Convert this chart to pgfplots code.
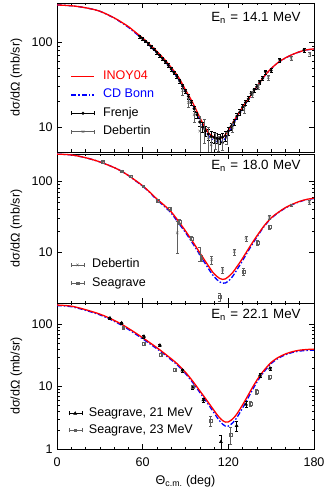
\documentclass[border=0pt]{standalone}
\usepackage{fontspec}
\setmainfont{Liberation Sans}
\usepackage{pgfplots}
\pgfplotsset{compat=1.18}
\definecolor{inoyred}{RGB}{255,0,0}
\definecolor{cdblue}{RGB}{0,0,255}
\definecolor{datgray}{RGB}{95,95,95}
\newcommand{\En}[1]{{\fontsize{13.4}{15}\selectfont E\textsubscript{n}\hspace{4.5bp}=\hspace{4.5bp}#1\hspace{4.5bp}MeV}}
\pgfplotsset{
  every axis/.append style={
    scale only axis, width=257bp, xmin=0, xmax=180,
    xtick={0,60,120,180}, minor x tick num=5,
    tick align=inside, major tick length=5bp, minor tick length=2.5bp,
    tick style={black, line width=0.5bp}, axis line style={line width=0.8bp},
    ylabel={dσ/dΩ (mb/sr)},
    every axis y label/.style={at={(axis description cs:-0.158,0.5)}, rotate=90, anchor=center},
    legend cell align=left,
    legend style={draw=none, fill=none, inner sep=0pt, column sep=8bp,
      nodes={inner sep=0pt, text height=9bp, text depth=3bp}}},
  inoy/.style={inoyred, line width=1.3bp, smooth, no marks},
  cdb/.style={cdblue, line width=1.3bp, smooth, no marks, dash pattern=on 5bp off 2bp on 1.5bp off 2bp},
  blackbars/.style={only marks, black, error bars/y dir=both, error bars/y explicit,
    error bars/error bar style={line width=0.4bp, black, solid},
    error bars/error mark options={rotate=90, mark size=1.5bp, line width=0.4bp, black}},
  graybars/.style={only marks, datgray, error bars/y dir=both, error bars/y explicit,
    error bars/error bar style={line width=0.4bp, datgray, solid},
    error bars/error mark options={rotate=90, mark size=1.5bp, line width=0.4bp, datgray}},
  linelegL/.style={legend image code/.code={\draw[##1] (0bp,0bp)--(23bp,0bp);}},
  eblegLk/.style={legend image code/.code={%
    \draw[line width=0.4bp,black,solid] (0bp,0bp)--(23bp,0bp) (0bp,-2bp)--(0bp,2bp) (23bp,-2bp)--(23bp,2bp);
    \draw[mark repeat=2,mark phase=2,##1] plot coordinates {(0bp,0bp)(11.5bp,0bp)(23bp,0bp)};}},
  eblegLg/.style={legend image code/.code={%
    \draw[line width=0.4bp,datgray,solid] (0bp,0bp)--(23bp,0bp) (0bp,-2bp)--(0bp,2bp) (23bp,-2bp)--(23bp,2bp);
    \draw[mark repeat=2,mark phase=2,##1] plot coordinates {(0bp,0bp)(11.5bp,0bp)(23bp,0bp)};}},
  eblegSk/.style={legend image code/.code={%
    \draw[line width=0.4bp,black,solid] (0bp,0bp)--(13bp,0bp) (0bp,-2bp)--(0bp,2bp) (13bp,-2bp)--(13bp,2bp);
    \draw[mark repeat=2,mark phase=2,##1] plot coordinates {(0bp,0bp)(6.5bp,0bp)(13bp,0bp)};}},
  eblegSg/.style={legend image code/.code={%
    \draw[line width=0.4bp,datgray,solid] (0bp,0bp)--(13bp,0bp) (0bp,-2bp)--(0bp,2bp) (13bp,-2bp)--(13bp,2bp);
    \draw[mark repeat=2,mark phase=2,##1] plot coordinates {(0bp,0bp)(6.5bp,0bp)(13bp,0bp)};}},
}
\begin{document}
\fontsize{12.6}{15}\selectfont
\begin{tikzpicture}
\useasboundingbox (0,0) rectangle (330bp,490bp);
% ---------- 14.1 MeV ----------
\begin{axis}[ymode=log, anchor=south west, at={(57bp,338bp)}, height=149bp, ymin=5.1, ymax=290,
  ytick={10,100}, yticklabels={10,100}, xticklabels={},
  legend style={at={(axis description cs:0.053,0.547)}, anchor=north west, row sep=6.3bp}]
\addlegendimage{inoyred, line width=1.3bp, linelegL}
\addlegendentry{\textcolor{inoyred}{INOY04}}
\addplot[cdb, linelegL] coordinates {
(0,275)(10,269)(20,255)(30,232)(40,193)(45,171)(50,150)(55,128)(60,109)(65,90.5)
(70,75)(75,61)(80,48.5)(85,37)(90,26.5)(95,18.5)(100,12.3)(103,9.7)(106,8.0)
(109,7.1)(112,6.75)(114,6.7)(116,6.85)(118,7.4)(120,8.5)(122,9.8)(125,12.2)
(128,14.8)(131,18)(134,21.1)(137,25.3)(140,29.8)(145,39.3)(150,48.8)(155,57.8)
(160,65.2)(165,71.7)(170,77.2)(175,81.2)(180,83.2)};
\addlegendentry{\textcolor{cdblue}{CD Bonn}}
\addplot[inoy, forget plot] coordinates {
(0,275)(10,269)(20,255)(30,232)(40,194)(45,173)(50,153)(55,131)(60,112)(65,93.5)
(70,78)(75,63.5)(80,50.5)(85,39)(90,27.5)(95,19.5)(100,13)(103,10.4)(106,8.6)
(109,7.8)(112,7.45)(114,7.4)(116,7.55)(118,8.2)(120,9.2)(122,10.4)(125,12.7)
(128,15.2)(131,18.3)(134,21.3)(137,25.5)(140,30)(145,39.5)(150,49)(155,58)
(160,65.5)(165,72)(170,77.5)(175,81.5)(180,83.5)};
\addplot[blackbars, mark=*, mark size=1.3bp, eblegLk]
  table[x=x, y=y, y error=e] {
x y e
58 117 4
60 110 4
62 103 4
64 96 3.5
66 89 3.5
68 83 3
70 76 3
72 70 3
74 64 3
76 59 2.5
78 53.5 2.5
80 48.5 2.5
82 44 2
84 39.5 2
86 35 2
88 30.5 1.6
90 26.5 1.5
92 23 1.4
94 19.5 1.3
96 16.5 1.2
98 14 1.2
100 11.5 1.2
102 10 1.3
104 9 1.2
106 8.3 1.2
108 7.8 1.2
110 7.6 1.1
112 7.4 1.0
114 7.3 1.0
116 7.6 1.0
118 7.9 1.0
120 9.0 1.0
122 10.2 1.0
124 11.5 1.0
126 13.5 1.1
128 15 1.2
130 17.2 1.3
132 19.5 1.4
134 21.5 1.4
136 25 1.5
138 27.5 1.6
140 30 1.7
142 34 1.9
144 37.5 2
146 45 2.5
150 46.5 2.5
156 62 3
173 81 4
};
\addlegendentry{Frenje}
\addplot[graybars, mark=x, mark size=1.8bp, eblegLg]
  table[x=x, y=y, y error=e] {
x y e
88 27 3
92 19.5 2.5
96 14 2.5
100 9 4.5
103 9.5 3
106 7.5 2.5
108 6.2 1.5
111 7.0 1.5
113 6.5 1.3
116 6.6 1.3
119 7.5 1.2
123 10 1.2
131 16 1.5
137 24.5 2
141 30 2
148 38.5 2.5
164 65 3.5
177 73 4
};
\addlegendentry{Debertin}
\node[anchor=east] at (rel axis cs:0.965,0.90) {\En{14.1}};
\end{axis}
% ---------- 18.0 MeV ----------
\begin{axis}[ymode=log, anchor=south west, at={(57bp,187bp)}, height=149bp, ymin=1.95, ymax=240,
  ytick={10,100}, yticklabels={10,100}, xticklabels={},
  legend style={at={(axis description cs:0.053,0.297)}, anchor=north west, row sep=6.3bp}]
\addplot[cdb, forget plot] coordinates {
(0,239)(10,233)(20,213)(30,186)(40,155)(45,138)(50,120)(55,101)(60,85)(65,69)
(70,54.5)(75,44.5)(80,35.5)(85,26)(90,19)(95,13.4)(100,9.3)(103,7.4)(106,5.95)
(109,4.85)(112,4.15)(114,3.85)(116,3.7)(118,3.72)(120,3.95)(123,4.6)(126,5.7)
(129,7.1)(132,9.0)(135,11.4)(140,16.4)(145,23)(150,30)(155,36)(160,42)
(165,47)(170,51.5)(175,55)(180,57)};
\addplot[inoy, forget plot] coordinates {
(0,239)(10,233)(20,213)(30,186)(40,155)(45,138)(50,120)(55,102)(60,86)(65,70)
(70,56)(75,46)(80,37)(85,27.5)(90,20)(95,14.2)(100,9.9)(103,8.0)(106,6.5)
(109,5.3)(112,4.6)(114,4.3)(116,4.18)(118,4.25)(120,4.55)(123,5.2)(126,6.3)
(129,7.7)(132,9.6)(135,12)(140,17)(145,23.5)(150,30.5)(155,36.5)(160,42.5)
(165,47.5)(170,52)(175,55.5)(180,57.5)};
\addplot[graybars, mark=x, mark size=1.8bp, eblegSg]
  table[x=x, y=y, y error=e] {
x y e
45 137 5
84.2 18.8 9
100 9.7 2.2
108.3 7.9 1
116 5.65 0.6
124.2 10.2 1
132.4 15.7 1.3
148.7 31 2
164.3 46 2
176.7 51 3
};
\addlegendentry{Debertin}
\addplot[graybars, mark=square, mark size=1.4bp, eblegSg]
  table[x=x, y=y, y error=e] {
x y e
32 187 6
45.5 138 5
51.6 117 4
60.4 85 3
70.5 53 2.5
79.1 41 2
85.7 27 2
94.3 15.7 1
101 8.3 0.8
114.1 2.4 0.3
130.5 5.35 0.6
140.3 13.6 1
148.7 22.9 1.5
};
\addlegendentry{Seagrave}
\node[anchor=east] at (rel axis cs:0.965,0.92) {\En{18.0}};
\end{axis}
% ---------- 22.1 MeV ----------
\begin{axis}[ymode=log, anchor=south west, at={(57bp,41bp)}, height=146bp, ymin=1, ymax=220,
  ytick={1,10,100}, yticklabels={1,10,100}, xticklabels={0,60,120,180},
  xticklabel style={yshift=-4bp},
  xlabel={Θ\textsubscript{c.m.} (deg)},
  every axis x label/.style={at={(axis description cs:0.5,0)}, yshift=-32.7bp, anchor=center},
  legend style={at={(axis description cs:0.044,0.286)}, anchor=north west, row sep=4.7bp, column sep=7bp}]
\addplot[cdb, forget plot] coordinates {
(0,200)(10,192)(20,168)(30,142)(37,121)(45,97.5)(53,75)(60,58.5)(66,47)(72,37.5)
(78,29.3)(84,22.5)(90,16.2)(95,11.7)(100,8.1)(105,5.6)(110,3.8)(113,3.0)(116,2.5)
(118,2.32)(120,2.33)(122,2.5)(125,2.95)(128,3.8)(131,5.0)(134,6.7)(137,9.0)
(140,11.8)(143,15)(146,18.5)(150,23.5)(155,28.5)(160,32.5)(165,35.5)(170,37.3)
(175,38.2)(180,38.6)};
\addplot[inoy, forget plot] coordinates {
(0,204)(10,196)(20,172)(30,146)(37,125)(45,101)(53,78)(60,61)(66,49)(72,39)
(78,30.5)(84,23.5)(90,17)(95,12.3)(100,8.6)(105,6.0)(110,4.15)(113,3.35)(116,2.85)
(118,2.7)(120,2.72)(122,2.9)(125,3.4)(128,4.3)(131,5.6)(134,7.4)(137,9.8)
(140,12.7)(143,16)(146,19.5)(150,24.5)(155,29.5)(160,33.5)(165,36.5)(170,38.5)
(175,39.5)(180,40)};
\addplot[blackbars, mark=triangle*, mark size=1.8bp, eblegSk]
  table[x=x, y=y, y error=e] {
x y e
37.1 126 5
45.3 105 4
60.9 64 3
72.1 46 2
87.8 18.3 1
95 9.8 0.6
102.5 6.1 0.4
114.8 1.3 0.35
125.8 2.35 0.4
132.4 5.2 0.6
142.2 15.3 1
149.2 19.7 1.2
};
\addlegendentry{Seagrave, 21 MeV}
\addplot[graybars, mark=square, mark size=1.4bp, eblegSg]
  table[x=x, y=y, y error=e] {
x y e
46.4 87.6 4
60.9 48.3 2.5
72.8 32.5 1.8
82.6 18.7 1
95 9.95 0.6
107.6 2.84 0.5
121.6 1.71 0.5
135.6 5.4 0.5
139.8 8.3 0.8
148.7 14.4 1
};
\addlegendentry{Seagrave, 23 MeV}
\node[anchor=east] at (rel axis cs:0.965,0.92) {\En{22.1}};
\end{axis}
\end{tikzpicture}
\end{document}
